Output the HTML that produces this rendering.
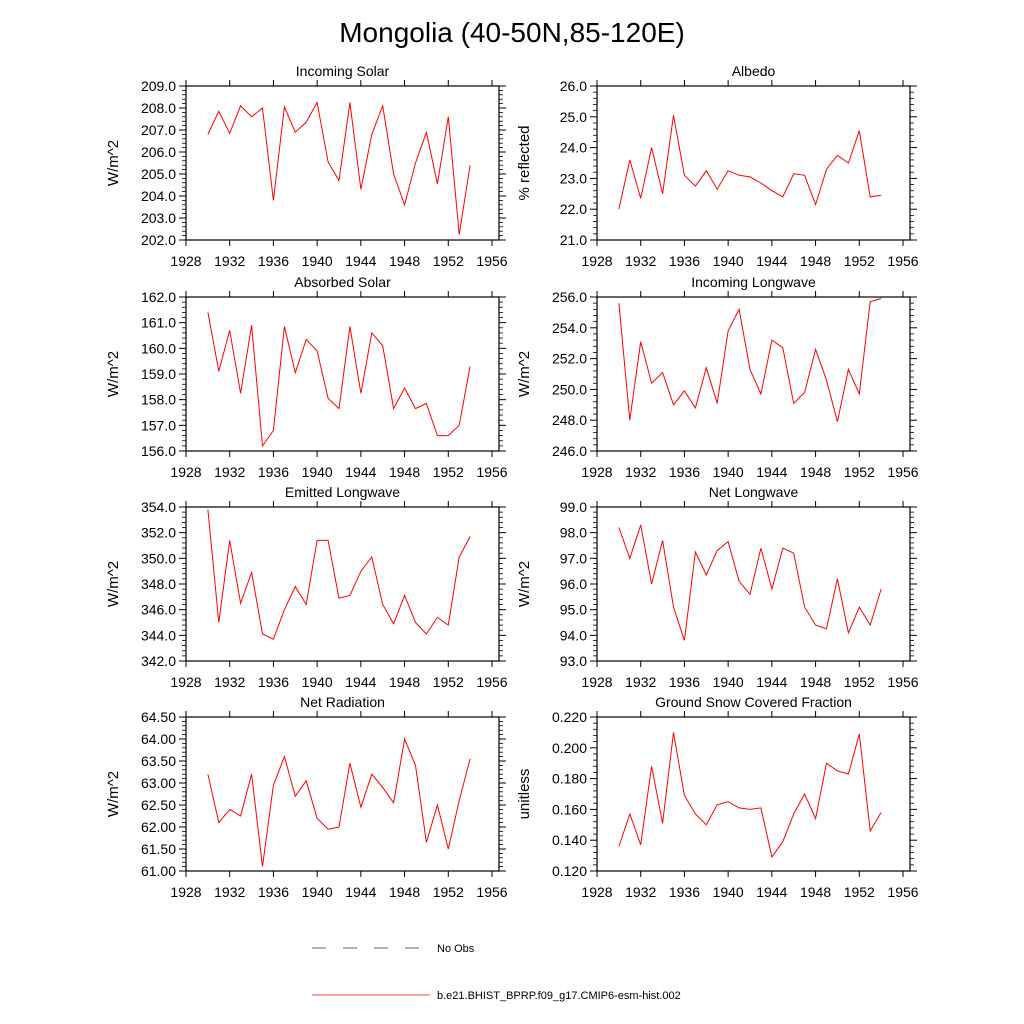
<!DOCTYPE html>
<html><head><meta charset="utf-8">
<style>
html,body{margin:0;padding:0;background:#fff;}
svg{display:block;font-family:"Liberation Sans",sans-serif;}
</style></head>
<body>
<svg id="chart" width="1024" height="1024" viewBox="0 0 1024 1024">
<text x="512" y="42" text-anchor="middle" font-size="28">Mongolia (40-50N,85-120E)</text>
<g>
<line x1="312" y1="948" x2="428" y2="948" stroke="#333" stroke-width="0.8" stroke-dasharray="14,17"/>
<text x="437" y="952" font-size="11">No Obs</text>
<line x1="312" y1="995" x2="430" y2="995" stroke="#f00" stroke-width="0.8"/>
<text x="437" y="999" font-size="11">b.e21.BHIST_BPRP.f09_g17.CMIP6-esm-hist.002</text>
</g>
</svg>
<script>
const years = [1930,1931,1932,1933,1934,1935,1936,1937,1938,1939,1940,1941,1942,1943,1944,1945,1946,1947,1948,1949,1950,1951,1952,1953,1954];
const xTicks = [1928,1932,1936,1940,1944,1948,1952,1956];
const incomingSolar = [206.8,207.85,206.85,208.1,207.6,208.0,203.8,208.05,206.9,207.35,208.25,205.55,204.7,208.25,204.3,206.8,208.1,205.0,203.6,205.5,206.9,204.55,207.6,202.25,205.4];
const albedo = [22.0,23.6,22.35,24.0,22.5,25.05,23.1,22.75,23.25,22.65,23.25,23.1,23.05,22.85,22.6,22.4,23.15,23.1,22.15,23.3,23.75,23.5,24.55,22.4,22.45];
const absorbedSolar = [161.4,159.1,160.7,158.25,160.9,156.2,156.8,160.85,159.05,160.35,159.9,158.05,157.65,160.85,158.25,160.6,160.1,157.65,158.45,157.65,157.85,156.6,156.6,157.0,159.3];
const incomingLW = [255.6,248.0,253.1,250.4,251.1,249.0,249.9,248.8,251.4,249.1,253.8,255.2,251.3,249.7,253.2,252.7,249.1,249.8,252.6,250.6,247.9,251.3,249.7,255.7,255.9];
const emittedLW = [353.8,345.0,351.4,346.5,348.9,344.1,343.7,346.0,347.8,346.4,351.4,351.4,346.9,347.1,349.0,350.1,346.4,344.9,347.1,345.0,344.1,345.4,344.8,350.1,351.7];
const netLW = [98.2,97.0,98.3,96.0,97.7,95.1,93.8,97.25,96.35,97.3,97.65,96.1,95.6,97.4,95.8,97.4,97.2,95.1,94.4,94.25,96.2,94.1,95.1,94.4,95.8];
const netRad = [63.2,62.1,62.4,62.25,63.2,61.1,62.95,63.6,62.7,63.05,62.2,61.95,62.0,63.45,62.45,63.2,62.9,62.55,64.0,63.4,61.65,62.5,61.5,62.6,63.55];
const snowFrac = [0.136,0.157,0.137,0.188,0.151,0.210,0.169,0.157,0.150,0.163,0.165,0.161,0.160,0.161,0.129,0.139,0.157,0.170,0.154,0.190,0.185,0.183,0.209,0.146,0.158];
const titles = ["Incoming Solar","Albedo","Absorbed Solar","Incoming Longwave","Emitted Longwave","Net Longwave","Net Radiation","Ground Snow Covered Fraction"];
const yTitles = ["W/m^2","% reflected","W/m^2","W/m^2","W/m^2","W/m^2","W/m^2","unitless"];
const yMins = [202,21,156,246,342,93,61,0.12];
const yMaxs = [209,26,162,256,354,99,64.5,0.22];
const ySteps = [1,1,1,2,2,1,0.5,0.02];
const yDecimals = [1,1,1,1,1,1,2,3];
const series = [incomingSolar,albedo,absorbedSolar,incomingLW,emittedLW,netLW,netRad,snowFrac];
const names = ["incoming-solar","albedo","absorbed-solar","incoming-longwave","emitted-longwave","net-longwave","net-radiation","snow-fraction"];

const NS="http://www.w3.org/2000/svg";
const svg=document.getElementById('chart');
function mk(tag,attrs,parent){const e=document.createElementNS(NS,tag);for(const k in attrs)e.setAttribute(k,attrs[k]);parent.appendChild(e);return e;}
const rowsTop=[86,297,507,717], rowH=154;
const colsLeft=[186,597], colW=313, yearSpan=306;

for(let p=0;p<8;p++){
  const col=p%2,row=Math.floor(p/2);
  const x0=colsLeft[col], y0=rowsTop[row], y1=y0+rowH;
  const xs=v=>x0+(v-1928)*yearSpan/28;
  const ys=v=>y1-(v-yMins[p])/(yMaxs[p]-yMins[p])*rowH;
  const g=mk('g',{},svg);
  
  
  const fr=mk('rect',{x:x0,y:y0,width:colW,height:rowH,fill:'none',stroke:'#000','stroke-width':1.2},g);
  
  
  const t=mk('text',{x:x0+colW/2,y:y0-10,'text-anchor':'middle','font-size':14},g);
  t.textContent=titles[p];
  
  
  const yt=mk('text',{x:0,y:0,'text-anchor':'middle','font-size':15,transform:`translate(${x0-68},${y0+rowH/2}) rotate(-90)`},g);
  yt.textContent=yTitles[p];
  
  
  xTicks.forEach(v=>{
    const x=xs(v);
    mk('line',{x1:x,y1:y1,x2:x,y2:y1+6,stroke:'#000','stroke-width':1},g);
    mk('line',{x1:x,y1:y0,x2:x,y2:y0-6,stroke:'#000','stroke-width':1},g);
    const tx=mk('text',{x:x,y:y1+26,'text-anchor':'middle','font-size':14},g);
    tx.textContent=v;
    
    
  });
  const n=Math.round((yMaxs[p]-yMins[p])/ySteps[p]);
  for(let i=0;i<=n;i++){
    const v=yMins[p]+i*ySteps[p], y=ys(v);
    mk('line',{x1:x0,y1:y,x2:x0-7,y2:y,stroke:'#000','stroke-width':1},g);
    mk('line',{x1:x0+colW,y1:y,x2:x0+colW+7,y2:y,stroke:'#000','stroke-width':1},g);
    const ty=mk('text',{x:x0-10,y:y+5,'text-anchor':'end','font-size':14},g);
    ty.textContent=v.toFixed(yDecimals[p]);
    
    
    if(i<n){for(let m=1;m<5;m++){const ym=ys(v+m*ySteps[p]/5);
      mk('line',{x1:x0,y1:ym,x2:x0-4,y2:ym,stroke:'#000','stroke-width':0.8},g);
      mk('line',{x1:x0+colW,y1:ym,x2:x0+colW+4,y2:ym,stroke:'#000','stroke-width':0.8},g);}}
  }
  const pts=series[p].map((v,i)=>xs(years[i]).toFixed(1)+','+ys(v).toFixed(1)).join(' ');
  const pl=mk('polyline',{points:pts,fill:'none',stroke:'#f00','stroke-width':1},g);
  
  
}
</script>
</body></html>
